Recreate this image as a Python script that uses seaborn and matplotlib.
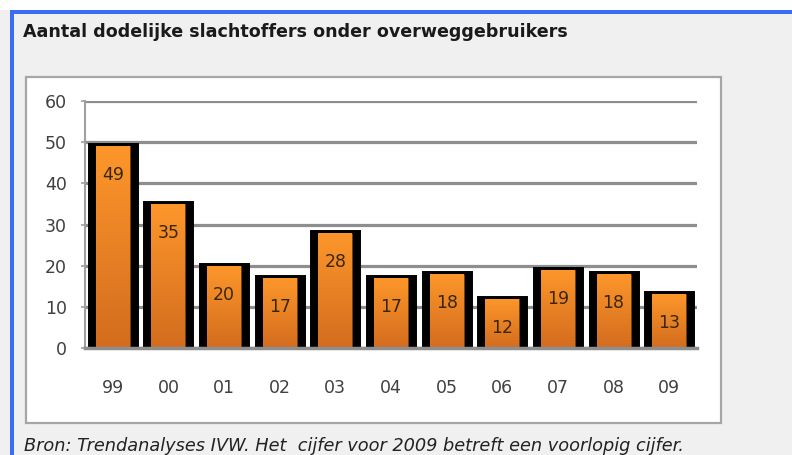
import numpy as np
import pandas as pd
import seaborn as sns
import matplotlib.pyplot as plt
from matplotlib.patches import Rectangle
from matplotlib.colors import LinearSegmentedColormap

# ---- data ----
years = ["99", "00", "01", "02", "03", "04", "05", "06", "07", "08", "09"]
victims = [49, 35, 20, 17, 28, 17, 18, 12, 19, 18, 13]
y_ticks = [0, 10, 20, 30, 40, 50, 60]
title = "Aantal dodelijke slachtoffers onder overweggebruikers"
source = "Bron: Trendanalyses IVW. Het  cijfer voor 2009 betreft een voorlopig cijfer."

df = pd.DataFrame({"year": years, "victims": victims})

sns.set_theme(style="white")
plt.rcParams['font.family'] = ['DejaVu Sans']

W, H = 792, 455
fig = plt.figure(figsize=(7.92, 4.55), dpi=100)
fig.patch.set_facecolor('#f0f0f0')


def box(x0, y0, x1, y1, **kw):
    r = Rectangle((x0 / W, 1 - y1 / H), (x1 - x0) / W, (y1 - y0) / H,
                  transform=fig.transFigure, **kw)
    fig.add_artist(r)
    return r


# page frame
box(0, 0, W, 10, facecolor='white', edgecolor='none', zorder=-5)
box(10, 10, W, 14, facecolor='#3d6cf4', edgecolor='none', zorder=-4)
box(10, 10, 14, H, facecolor='#3d6cf4', edgecolor='none', zorder=-4)
box(26, 77, 721, 423, facecolor='white', edgecolor='#a6a6a6', linewidth=1.6, zorder=-3)

fig.text(23 / W, 1 - 32 / H, title, fontsize=12.6, fontweight='bold',
         color='#1a1a1a', ha='left', va='center')
fig.text(24 / W, 1 - 446 / H, source, fontsize=12.8, style='italic',
         color='#222222', ha='left', va='center')

ax = fig.add_axes([85 / W, 1 - 348 / H, 612 / W, 247 / H])
ax.set_facecolor('none')

# black "shadow" bars
sns.barplot(data=df, x="year", y="victims", color="black", width=0.79,
            saturation=1, linewidth=5, edgecolor="black", ax=ax, zorder=2)
# orange bars
sns.barplot(data=df, x="year", y="victims", color="#f08a26", width=0.61,
            saturation=1, linewidth=0.8, edgecolor="#6a3a08", ax=ax, zorder=3)

cmap = LinearSegmentedColormap.from_list("og", ["#d36c1e", "#fd972b"])
grad = np.linspace(0, 1, 256).reshape(-1, 1)
for p in ax.containers[1]:
    p.set_linestyle(':')
    x, w, h = p.get_x(), p.get_width(), p.get_height()
    im = ax.imshow(grad, extent=[x, x + w, 0, h], origin='lower', aspect='auto',
                   cmap=cmap, zorder=3.5, interpolation='bilinear')
    im.set_clip_path(p)
    ax.annotate(f"{h:.0f}", (x + w / 2, h), xytext=(0, -29),
                textcoords='offset pixels', ha='center', va='center',
                fontsize=12.5, color='#3a2608', zorder=5)

ax.set_xlim(-0.5, len(years) - 0.5)
ax.set_ylim(0, 60)
ax.set_aspect('auto')
ax.set_yticks(y_ticks)
ax.yaxis.grid(True, color='#8e8e8e', linewidth=2.3)
ax.set_axisbelow(True)
ax.set_xlabel("")
ax.set_ylabel("")

for s in ['top', 'right']:
    ax.spines[s].set_visible(False)
ax.spines['left'].set_color('#a0a0a0')
ax.spines['left'].set_linewidth(1.5)
ax.spines['bottom'].set_color('#8e8e8e')
ax.spines['bottom'].set_linewidth(2.5)
ax.spines['bottom'].set_zorder(4)

ax.tick_params(axis='y', length=3, color='#a0a0a0', width=1.2, pad=10,
               labelsize=12.5, labelcolor='#404040', left=True)
ax.tick_params(axis='x', length=0, pad=22, labelsize=12.5, labelcolor='#404040')

fig.savefig("out.png", dpi=100, facecolor=fig.get_facecolor())
